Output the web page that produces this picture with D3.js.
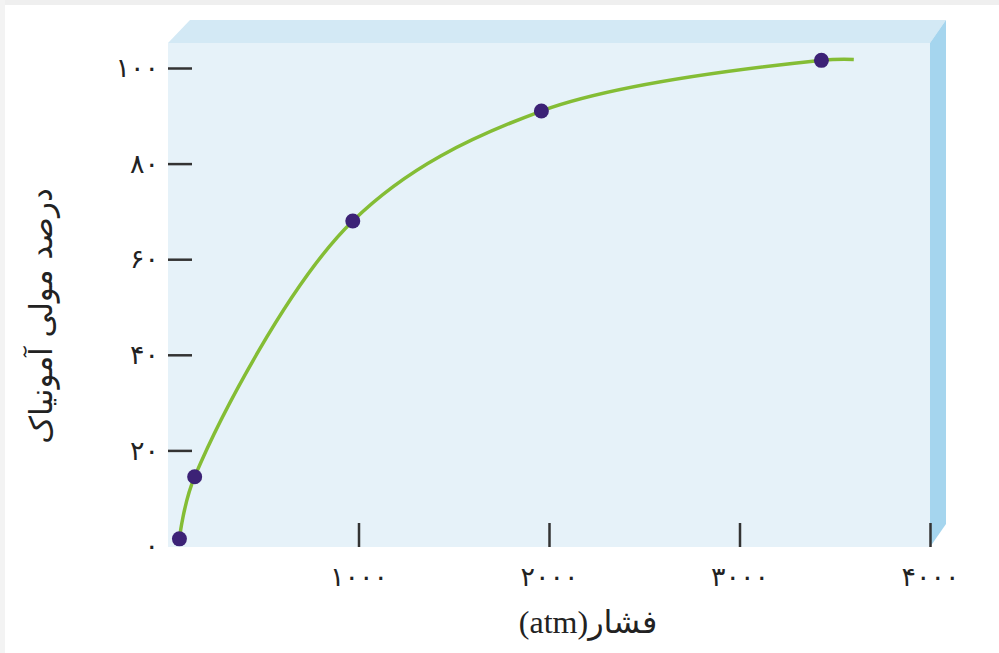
<!DOCTYPE html>
<html>
<head>
<meta charset="utf-8">
<script src="https://cdn.jsdelivr.net/npm/d3@7"></script>
<style>
  body { margin: 0; background: #fff; }
  svg { display: block; }
  .tick text { font-family: "DejaVu Sans", sans-serif; fill: #222; }
</style>
</head>
<body>
<div id="chart"></div>
<script>
// pressure (atm) vs. mole percent ammonia
const pressure = [60, 140, 970, 1960, 3430];
const molePercent = [1.5, 14.5, 68, 91, 101.6];
// the curve runs a little past the last point
const curveEndPressure = 3600;
const curveEndPercent = 101.8;

const xTicks = [1000, 2000, 3000, 4000];
const yTicks = [0, 20, 40, 60, 80, 100];
const toPersian = n => String(n).replace(/\d/g, d => "۰۱۲۳۴۵۶۷۸۹"[d]);

const width = 999, height = 653;
const boxLeft = 168, boxRight = 930, boxTop = 43, boxBottom = 547;
const depthX = 16, depthY = 23;

const svg = d3.select("#chart").append("svg")
  .attr("width", width)
  .attr("height", height);

// faint page edges
svg.append("rect").attr("x", 0).attr("y", 0).attr("width", width).attr("height", 5).attr("fill", "#efefef");
svg.append("rect").attr("x", 0).attr("y", 0).attr("width", 5).attr("height", height).attr("fill", "#f3f3f3");

const x = d3.scaleLinear().domain([0, 4000]).range([boxLeft, boxRight]);
const y = d3.scaleLinear().domain([0, 100]).range([boxBottom - 1, 68]);

// box: top face, right face, front face
svg.append("polygon")
  .attr("points", [[boxLeft, boxTop], [boxLeft + depthX + 6, boxTop - depthY], [boxRight + depthX, boxTop - depthY], [boxRight, boxTop]].join(" "))
  .attr("fill", "#d3e9f5");
svg.append("polygon")
  .attr("points", [[boxRight, boxTop], [boxRight + depthX, boxTop - depthY], [boxRight + depthX, boxBottom - depthY], [boxRight, boxBottom]].join(" "))
  .attr("fill", "#a5d5ee");
svg.append("rect")
  .attr("x", boxLeft).attr("y", boxTop)
  .attr("width", boxRight - boxLeft).attr("height", boxBottom - boxTop)
  .attr("fill", "#e6f2f9");

// y axis
const yAxis = svg.append("g")
  .attr("transform", `translate(${boxLeft},0)`)
  .call(d3.axisLeft(y).tickValues(yTicks).tickSize(-24).tickPadding(9).tickFormat(toPersian));
yAxis.select(".domain").remove();
yAxis.selectAll(".tick line").attr("stroke", "#333").attr("stroke-width", 2.5)
  .filter(d => d === 0).remove();
yAxis.selectAll(".tick text").attr("font-size", 27);

// x axis
const xAxis = svg.append("g")
  .attr("transform", `translate(0,${boxBottom})`)
  .call(d3.axisBottom(x).tickValues(xTicks).tickSize(-24).tickPadding(20).tickFormat(toPersian));
xAxis.select(".domain").remove();
xAxis.selectAll(".tick line").attr("stroke", "#333").attr("stroke-width", 2.5);
xAxis.selectAll(".tick text").attr("font-size", 27);

// curve
const linePts = pressure.map((p, i) => [p, molePercent[i]]).concat([[curveEndPressure, curveEndPercent]]);
svg.append("path")
  .datum(linePts)
  .attr("fill", "none")
  .attr("stroke", "#84bd35")
  .attr("stroke-width", 3.5)
  .attr("d", d3.line().x(d => x(d[0])).y(d => y(d[1])).curve(d3.curveCatmullRom.alpha(0.5)));

// points
svg.selectAll(".dot")
  .data(pressure.map((p, i) => [p, molePercent[i]]))
  .enter()
  .append("circle")
  .attr("class", "dot")
  .attr("cx", d => x(d[0]))
  .attr("cy", d => y(d[1]))
  .attr("r", 7.5)
  .attr("fill", "#3c2276");

// axis titles
svg.append("text")
  .attr("x", 588).attr("y", 633)
  .attr("text-anchor", "middle")
  .attr("direction", "rtl")
  .attr("font-family", "'Liberation Serif', 'DejaVu Sans', serif")
  .attr("font-size", 32)
  .attr("fill", "#222")
  .text("فشار(atm)");

svg.append("text")
  .attr("transform", "translate(52,316) rotate(-90)")
  .attr("text-anchor", "middle")
  .attr("direction", "rtl")
  .attr("font-family", "'DejaVu Sans', sans-serif")
  .attr("font-size", 31)
  .attr("fill", "#222")
  .text("درصد مولی آمونیاک");
</script>
</body>
</html>
